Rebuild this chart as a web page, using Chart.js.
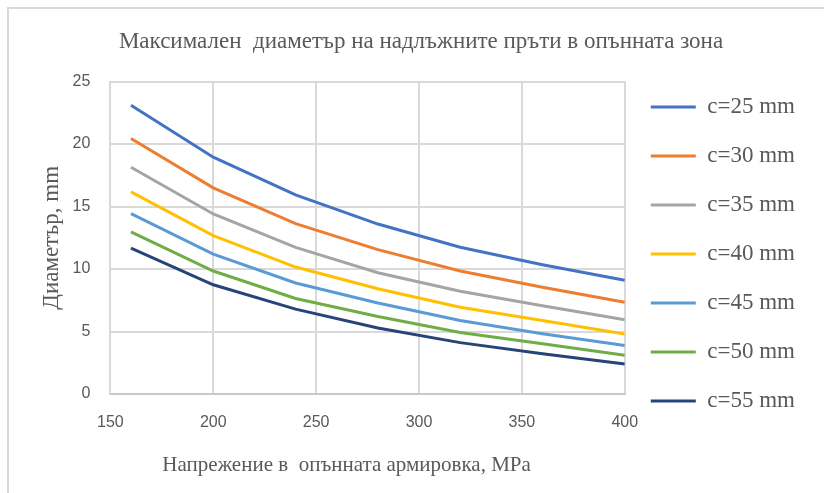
<!DOCTYPE html>
<html>
<head>
<meta charset="utf-8">
<script src="https://cdn.jsdelivr.net/npm/chart.js@4"></script>
<style>
  html, body { margin: 0; padding: 0; background: #fff; overflow: hidden; }
  #frame { position: absolute; left: 7px; top: 7px; width: 900px; height: 600px; border-left: 2px solid #d9d9d9; border-top: 2px solid #d9d9d9; }
  #wrap { position: absolute; left: 0; top: 0; width: 824px; height: 493px; }
</style>
</head>
<body>
<div id="frame"></div>
<div id="wrap"><canvas id="chart"></canvas></div>
<script>
// stress in MPa
const stress = [160, 200, 240, 280, 320, 360, 400];

// max bar diameter, mm, per concrete cover c
const c25 = [23.1, 18.95, 15.93, 13.6, 11.75, 10.35, 9.1];
const c30 = [20.45, 16.5, 13.63, 11.55, 9.85, 8.55, 7.35];
const c35 = [18.15, 14.41, 11.73, 9.7, 8.22, 7.06, 5.95];
const c40 = [16.17, 12.67, 10.16, 8.42, 6.95, 5.88, 4.8];
const c45 = [14.43, 11.2, 8.88, 7.28, 5.88, 4.83, 3.88];
const c50 = [12.97, 9.84, 7.64, 6.2, 4.93, 4.02, 3.1];
const c55 = [11.68, 8.74, 6.79, 5.28, 4.11, 3.22, 2.4];

const seriesNames = ["c=25 mm", "c=30 mm", "c=35 mm", "c=40 mm", "c=45 mm", "c=50 mm", "c=55 mm"];
const seriesValues = [c25, c30, c35, c40, c45, c50, c55];
const colors = ["#4472C4", "#ED7D31", "#A5A5A5", "#FFC000", "#5B9BD5", "#70AD47", "#264478"];

const xTitle = "Напрежение в  опънната армировка, MPa";
const textColor = "#595959";
const serif = "'Liberation Serif', 'Times New Roman', serif";
const sans = "'Liberation Sans', Arial, sans-serif";

const datasets = seriesNames.map((name, i) => ({
  label: name,
  data: stress.map((x, j) => ({ x, y: seriesValues[i][j] })),
  borderColor: colors[i],
  backgroundColor: colors[i],
  borderWidth: 3,
  pointRadius: 0,
  tension: 0,
  fill: false
}));

// x axis title sits a bit left of the plot centre, so it is drawn here
const xAxisTitle = {
  id: "xAxisTitle",
  afterDraw(chart) {
    const { ctx, chartArea } = chart;
    ctx.save();
    ctx.font = "21px " + serif;
    ctx.fillStyle = textColor;
    ctx.textAlign = "center";
    ctx.textBaseline = "middle";
    ctx.fillText(xTitle, (chartArea.left + chartArea.right) / 2 - 21, chart.height - 27.6);
    ctx.restore();
  }
};

new Chart(document.getElementById("chart"), {
  type: "line",
  data: { datasets },
  plugins: [xAxisTitle],
  options: {
    responsive: true,
    maintainAspectRatio: false,
    animation: false,
    layout: { padding: { left: 37, right: 19, top: 15, bottom: 0 } },
    plugins: {
      title: {
        display: true,
        text: "Максимален  диаметър на надлъжните пръти в опънната зона",
        color: textColor,
        font: { family: serif, size: 23, weight: "normal", lineHeight: 1.2 },
        padding: { top: 13, bottom: 26 }
      },
      legend: {
        position: "right",
        labels: {
          boxWidth: 45,
          boxHeight: 3,
          padding: 26,
          color: textColor,
          font: { family: serif, size: 23 },
          // plain line swatch, no outline
          generateLabels: chart =>
            Chart.defaults.plugins.legend.labels.generateLabels(chart).map(l => ({ ...l, lineWidth: 0 }))
        }
      },
      tooltip: { enabled: false }
    },
    scales: {
      x: {
        type: "linear",
        min: 150,
        max: 400,
        ticks: { stepSize: 50, padding: 19, color: textColor, font: { family: sans, size: 16 } },
        grid: { color: "#d9d9d9", lineWidth: 2, drawTicks: false },
        border: { color: "#c8c8c8", width: 2 },
        // room for the axis title below the ticks
        afterFit: axis => { axis.height += 41.8; }
      },
      y: {
        min: 0,
        max: 25,
        ticks: { stepSize: 5, padding: 20, color: textColor, font: { family: sans, size: 16 } },
        grid: { color: "#d9d9d9", lineWidth: 2, drawTicks: false },
        border: { color: "#d9d9d9", width: 2 },
        title: {
          display: true,
          text: "Диаметър, mm",
          color: textColor,
          font: { family: serif, size: 23, lineHeight: 1.2 },
          padding: { top: 1, bottom: -13 }
        }
      }
    }
  }
});
</script>
</body>
</html>
